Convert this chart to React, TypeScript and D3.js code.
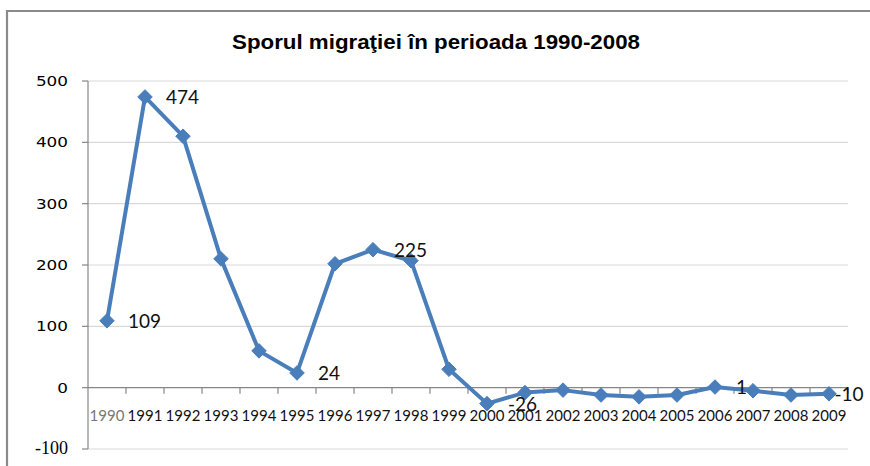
import React from "react";
import * as d3 from "d3";

const years = ["1990","1991","1992","1993","1994","1995","1996","1997","1998","1999","2000","2001","2002","2003","2004","2005","2006","2007","2008","2009"];
const values = [109, 474, 410, 210, 60, 24, 202, 225, 207, 30, -26, -8, -4, -12, -15, -12, 1, -5, -12, -10];
const labelledYears = ["1990","1991","1995","1997","2000","2006","2009"];
const yTicks = [-100, 0, 100, 200, 300, 400, 500];
const title = "Sporul migraţiei în perioada 1990-2008";

const W = 870, H = 466;
const plotL = 88, plotR = 848, plotT = 81, plotB = 449;
const blue = "#4A7EBB";

export default function App() {
  const x = d3.scaleBand<string>().domain(years).range([plotL, plotR]).padding(0);
  const y = d3.scaleLinear().domain([-100, 500]).range([plotB, plotT]);
  const cx = (yr: string) => (x(yr) as number) + x.bandwidth() / 2;
  const line = d3.line<number>().x((_, i) => cx(years[i])).y((v) => y(v));
  const diamond = d3.symbol().type(d3.symbolDiamond2).size(135);
  const y0 = y(0);

  return (
    <svg width={W} height={H} style={{ position: "absolute", left: 0, top: 0, background: "#fff" }}>
      <rect x={0} y={0} width={W} height={H} fill="#fff" />
      {/* frame */}
      <path d={`M7,${H} L7,11 L${W},11`} fill="none" stroke="#8a8a8a" strokeWidth={2.2} />
      {/* title */}
      <text x={436} y={49} textAnchor="middle" fontFamily="Liberation Sans, Arial, sans-serif" fontWeight="bold" fontSize={20} textLength={408} lengthAdjust="spacingAndGlyphs" fill="#000">{title}</text>
      {/* gridlines */}
      {yTicks.filter((t) => t !== 0).map((t) => (
        <line key={"g" + t} x1={plotL} x2={plotR} y1={y(t)} y2={y(t)} stroke="#d9d9d9" strokeWidth={1.2} />
      ))}
      {/* y axis */}
      <line x1={plotL} x2={plotL} y1={plotT} y2={plotB} stroke="#868686" strokeWidth={1.2} />
      {yTicks.map((t) => (
        <g key={"yt" + t}>
          <line x1={plotL - 6} x2={plotL} y1={y(t)} y2={y(t)} stroke="#868686" strokeWidth={1.2} />
          {t === -100 ? (
            <text x={68} y={y(t) + 5} textAnchor="end" fontFamily="Liberation Serif, serif" fontSize={18} fill="#000">{t}</text>
          ) : (
            <text x={68} y={y(t) + 5} textAnchor="end" fontFamily="DejaVu Sans, sans-serif" fontSize={14} textLength={String(t).length * 10.7} lengthAdjust="spacingAndGlyphs" fill="#000">{t}</text>
          )}
        </g>
      ))}
      {/* x axis at zero */}
      <line x1={plotL} x2={plotR} y1={y0} y2={y0} stroke="#868686" strokeWidth={1.2} />
      {years.map((yr) => (
        <line key={"xt" + yr} x1={(x(yr) as number) + x.bandwidth()} x2={(x(yr) as number) + x.bandwidth()} y1={y0} y2={y0 + 6} stroke="#868686" strokeWidth={1.2} />
      ))}
      {years.map((yr, i) => (
        <text key={"xl" + yr} x={cx(yr)} y={421} textAnchor="middle" fontFamily="Lato, sans-serif" fontSize={15} fill={i === 0 ? "#777" : "#111"}>{yr}</text>
      ))}
      {/* series */}
      <path d={line(values) as string} fill="none" stroke={blue} strokeWidth={4} strokeLinejoin="round" />
      {values.map((v, i) => (
        <path key={"m" + i} d={diamond() as string} transform={`translate(${cx(years[i])},${y(v)})`} fill={blue} stroke={blue} strokeWidth={1} />
      ))}
      {/* data labels */}
      {values.map((v, i) => {
        if (!labelledYears.includes(years[i])) return null;
        const txt = String(v);
        const tw = txt.length * 10.5;
        const lx = Math.min(cx(years[i]) + 21, 866 - tw);
        return (
          <text key={"dl" + i} x={lx} y={y(v) + 7} fontFamily="Lato, sans-serif" fontSize={19} fill="#111">{txt}</text>
        );
      })}
    </svg>
  );
}
